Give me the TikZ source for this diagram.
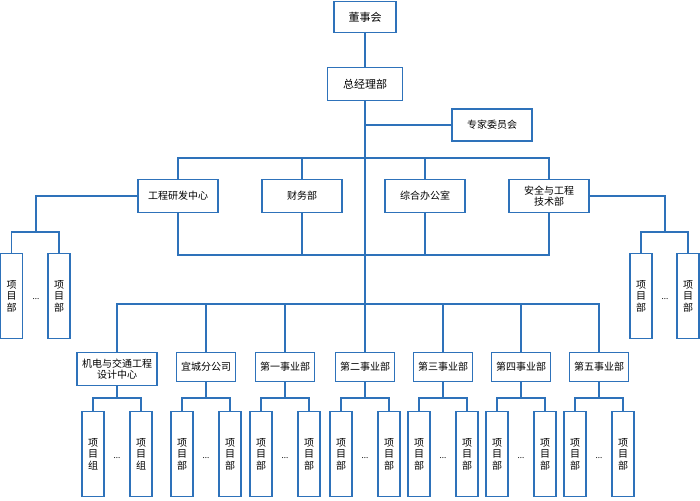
\documentclass[tikz,border=0pt]{standalone}
\usepackage{fontspec}
\setmainfont{Noto Sans CJK SC}
\usepackage{xcolor}
\definecolor{orgblue}{RGB}{46,114,186}

\begin{document}
\begin{tikzpicture}[x=1pt, y=-1pt,
  box/.style={rectangle, draw=orgblue, line width=1.6pt, align=center, inner sep=1pt,
    font=\fontsize{10}{11.5}\selectfont, minimum width=80pt, minimum height=33pt},
  small/.style={box, minimum width=59pt, minimum height=29pt},
  kid/.style={box, minimum width=22pt, minimum height=85pt, text width=11pt},
  dots/.style={inner sep=0pt, font=\fontsize{8}{8}\selectfont},
  link/.style={draw=orgblue, line width=1.3pt}]
  \useasboundingbox (0,0) rectangle (700,500);

  % top levels
  \node[box, minimum width=62pt, minimum height=31pt, font=\fontsize{11}{12}\selectfont] (dsh) at (365,17) {董事会};
  \node[box, minimum width=75pt, font=\fontsize{11}{12}\selectfont] (zjl) at (365,84) {总经理部};
  \node[box, minimum height=32pt] (zj) at (492,125) {专家委员会};
  \node[box] (gc) at (178,196) {工程研发中心};
  \node[box] (cw) at (302,196) {财务部};
  \node[box] (zh) at (425,196) {综合办公室};
  \node[box] (aq) at (549,196) {安全与工程\\技术部};

  % side project boxes
  \node[kid] (gc-a) at (11.5,296) {项\\目\\部};
  \node[kid] (gc-b) at (59,296) {项\\目\\部};
  \node[dots] (gc-d) at (36,299) {...};
  \node[kid] (aq-a) at (641,296) {项\\目\\部};
  \node[kid] (aq-b) at (688,296) {项\\目\\部};
  \node[dots] (aq-d) at (665,299) {...};

  % divisions
  \node[box] (jd) at (117,369) {机电与交通工程\\设计中心};
  \node[small] (yc) at (206,367) {宜城分公司};
  \node[small] (d1) at (285,367) {第一事业部};
  \node[small] (d2) at (365,367) {第二事业部};
  \node[small] (d3) at (443,367) {第三事业部};
  \node[small] (d4) at (521,367) {第四事业部};
  \node[small] (d5) at (599,367) {第五事业部};

  \foreach \d/\k in {jd/组, yc/部, d1/部, d2/部, d3/部, d4/部, d5/部} {
    \coordinate (\d-j) at (\d.south |- 0,398);
    \path (\d-j) ++(-24,56) node[kid] (\d-a) {项\\目\\\k};
    \path (\d-j) ++(24,56) node[kid] (\d-b) {项\\目\\\k};
    \path (\d-j) ++(0,60) node[dots] (\d-d) {...};
    \draw[link] (\d.south) -- (\d-j);
    \draw[link] (\d-a.north) |- (\d-j) -| (\d-b.north);
  }

  % connectors
  \draw[link] (dsh) -- (zjl);
  \draw[link] (zjl) -- (d2);
  \draw[link] (zj.west) -- (zj.west -| zjl.south);
  \coordinate (top) at (365,158);
  \draw[link] (gc.north) |- (top) -| (aq.north);
  \draw[link] (cw.north) -- (cw.north |- top);
  \draw[link] (zh.north) -- (zh.north |- top);
  \coordinate (mid) at (365,255);
  \draw[link] (gc.south) |- (mid) -| (aq.south);
  \draw[link] (cw.south) -- (cw.south |- mid);
  \draw[link] (zh.south) -- (zh.south |- mid);
  \coordinate (low) at (365,304);
  \draw[link] (jd.north) |- (low) -| (d5.north);
  \foreach \d in {yc, d1, d3, d4}
    \draw[link] (\d.north) -- (\d.north |- low);
  \coordinate (gc-j) at (36,232);
  \draw[link] (gc.west) -| (gc-j);
  \draw[link] (gc-a.north) |- (gc-j) -| (gc-b.north);
  \coordinate (aq-j) at (665,232);
  \draw[link] (aq.east) -| (aq-j);
  \draw[link] (aq-a.north) |- (aq-j) -| (aq-b.north);
\end{tikzpicture}
\end{document}
